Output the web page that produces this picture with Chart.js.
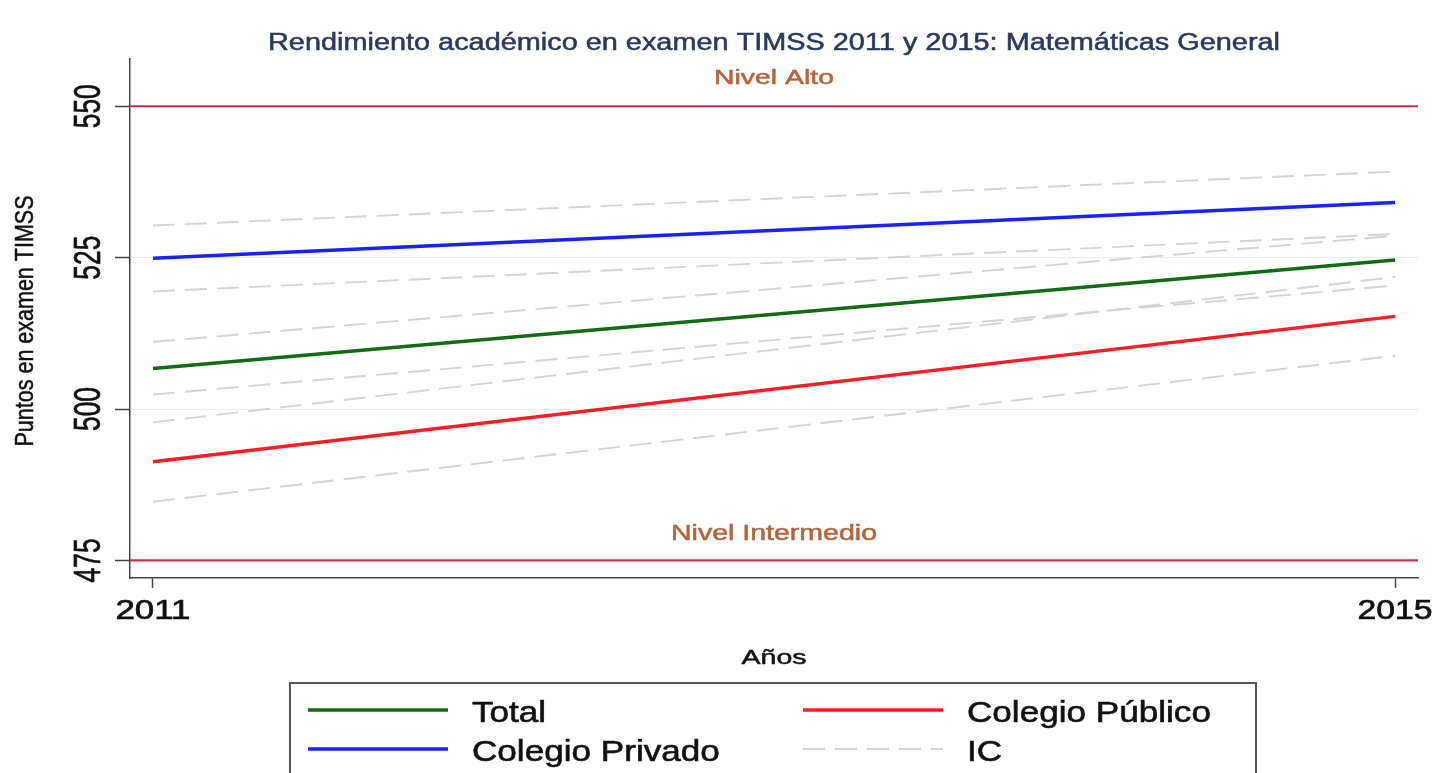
<!DOCTYPE html>
<html>
<head>
<meta charset="utf-8">
<script src="https://cdn.jsdelivr.net/npm/chart.js@4.4.1/dist/chart.umd.min.js"></script>
<style>
  html, body { margin: 0; padding: 0; background: #fff; }
  canvas { display: block; }
</style>
</head>
<body>
<canvas id="timss" width="1438" height="773"></canvas>
<script>
// datos
let YEARS = [2011, 2015]
let TOTAL = [506.7, 524.6]
let PRIVADO = [524.9, 534.1]
let PUBLICO = [491.3, 515.3]
// intervalos de confianza (IC)
let IC_PRIV_HI = [530.3, 539.2]
let IC_PRIV_LO = [519.4, 528.9]
let IC_TOTAL_HI = [511.1, 528.6]
let IC_TOTAL_LO = [502.4, 520.4]
let IC_PUB_HI = [497.8, 521.8]
let IC_PUB_LO = [484.7, 508.8]
// niveles de referencia
let NIVEL_ALTO = 550
let NIVEL_INTERMEDIO = 475
let Y_TICKS = [475, 500, 525, 550]

let X_MIN = 2010.926, X_MAX = 2015.074
let Y_MIN = 472.1, Y_MAX = 557.8

const FONT = '"Liberation Sans", Arial, sans-serif'
const IC_COLOR = '#d3d3d3'
const REF_COLOR = '#c8304f'

function pts(arr) {
    return YEARS.map((yr, i) => ({ x: yr, y: arr[i] }))
}
function refLine(v) {
    return [{ x: X_MIN, y: v }, { x: X_MAX, y: v }]
}

function mainSet(label, data, color) {
    return { label: label, data: pts(data), borderColor: color, borderWidth: 3.4, order: 0 }
}
function icSet(data) {
    return { label: 'IC', data: pts(data), borderColor: IC_COLOR, borderWidth: 1.9, borderDash: [22, 10], order: 1 }
}

var datasets = [
    mainSet('Total', TOTAL, '#116b14'),
    mainSet('Colegio Privado', PRIVADO, '#1a22ff'),
    mainSet('Colegio Público', PUBLICO, '#ff1c25'),
    icSet(IC_PRIV_HI), icSet(IC_PRIV_LO),
    icSet(IC_TOTAL_HI), icSet(IC_TOTAL_LO),
    icSet(IC_PUB_HI), icSet(IC_PUB_LO),
    { label: 'Nivel Alto', data: refLine(NIVEL_ALTO), borderColor: REF_COLOR, borderWidth: 2.2, order: 2 },
    { label: 'Nivel Intermedio', data: refLine(NIVEL_INTERMEDIO), borderColor: REF_COLOR, borderWidth: 2.2, order: 2 }
]

// texto con ancho ajustado (la fuente original es mas ancha / estrecha)
function drawText(ctx, txt, x, y, o) {
    ctx.save()
    ctx.font = o.size + 'px ' + FONT
    ctx.fillStyle = o.color || '#111'
    ctx.strokeStyle = o.color || '#111'
    ctx.lineWidth = o.stroke || 0.5
    ctx.textBaseline = 'alphabetic'
    ctx.textAlign = o.align || 'center'
    ctx.translate(x, y)
    if (o.rotate) ctx.rotate(o.rotate)
    var sx = o.sx || 1
    if (o.width) sx = o.width / ctx.measureText(txt).width
    ctx.scale(sx, 1)
    ctx.fillText(txt, 0, 0)
    ctx.strokeText(txt, 0, 0)
    ctx.restore()
}

const textos = {
    id: 'textos',
    beforeDraw(chart) {
        const ctx = chart.ctx
        ctx.save()
        ctx.fillStyle = '#fff'
        ctx.fillRect(0, 0, chart.width, chart.height)
        ctx.restore()
    },
    afterDraw(chart) {
        const ctx = chart.ctx
        const xs = chart.scales.x, ys = chart.scales.y
        const cx = (chart.chartArea.left + chart.chartArea.right) / 2

        drawText(ctx, 'Rendimiento académico en examen TIMSS 2011 y 2015: Matemáticas General', 774, 50,
            { size: 23, width: 1012, color: '#2a3860' })
        drawText(ctx, 'Nivel Alto', cx, ys.getPixelForValue(NIVEL_ALTO) - 22, { size: 21, width: 120, color: '#b5633a' })
        drawText(ctx, 'Nivel Intermedio', cx, ys.getPixelForValue(NIVEL_INTERMEDIO) - 20, { size: 22, width: 206, color: '#b5633a' })

        // etiquetas eje Y (rotadas)
        Y_TICKS.forEach(v => {
            drawText(ctx, String(v), 100, ys.getPixelForValue(v), { size: 37, width: 44, rotate: -Math.PI / 2, stroke: 0.7 })
        })
        drawText(ctx, 'Puntos en examen TIMSS', 33, 321, { size: 25, width: 251, rotate: -Math.PI / 2 })

        // etiquetas eje X
        YEARS.forEach(v => {
            drawText(ctx, String(v), xs.getPixelForValue(v), 619, { size: 28, width: 75, stroke: 0.7 })
        })
        drawText(ctx, 'Años', cx, 664, { size: 21, width: 65 })

        // leyenda
        ctx.save()
        ctx.strokeStyle = '#555'
        ctx.lineWidth = 2
        ctx.strokeRect(290, 683, 966, 130)
        ctx.restore()
        var items = [datasets[0], datasets[1], datasets[2], datasets[3]]
        var cols = [308, 803], rows = [710, 749]
        items.forEach((d, i) => {
            var col = Math.floor(i / 2), row = i % 2
            var lx = cols[col], ly = rows[row]
            ctx.save()
            ctx.strokeStyle = d.borderColor
            ctx.lineWidth = d.borderWidth
            ctx.setLineDash(d.borderDash || [])
            ctx.beginPath()
            ctx.moveTo(lx, ly)
            ctx.lineTo(lx + 140, ly)
            ctx.stroke()
            ctx.restore()
            drawText(ctx, d.label, lx + 164, ly + 12, { size: 30, sx: 1.17, align: 'left', color: '#111', stroke: 0.6 })
        })
    }
}

var ctx = document.getElementById('timss').getContext('2d')
var chartTimss = new Chart(ctx, {
    type: 'line',
    data: { datasets: datasets },
    options: {
        responsive: false,
        animation: false,
        layout: { padding: { top: 59, right: 20, left: 0, bottom: 0 } },
        elements: { point: { radius: 0 }, line: { tension: 0, fill: false } },
        plugins: { legend: { display: false }, title: { display: false }, tooltip: { enabled: false } },
        scales: {
            x: {
                type: 'linear',
                min: X_MIN,
                max: X_MAX,
                afterBuildTicks: s => { s.ticks = YEARS.map(v => ({ value: v })) },
                afterFit: s => { s.height = 195 },
                ticks: { display: false },
                grid: { drawOnChartArea: false, drawTicks: true, tickLength: 10, tickColor: '#444', tickWidth: 1.5 },
                border: { color: '#444', width: 1.5 }
            },
            y: {
                type: 'linear',
                min: Y_MIN,
                max: Y_MAX,
                afterBuildTicks: s => { s.ticks = Y_TICKS.map(v => ({ value: v })) },
                afterFit: s => { s.width = 130 },
                ticks: { display: false },
                grid: { color: '#e2eef0', lineWidth: 1, drawTicks: true, tickLength: 15, tickColor: '#444', tickWidth: 1.5 },
                border: { color: '#444', width: 1.5 }
            }
        }
    },
    plugins: [textos]
})
</script>
</body>
</html>
